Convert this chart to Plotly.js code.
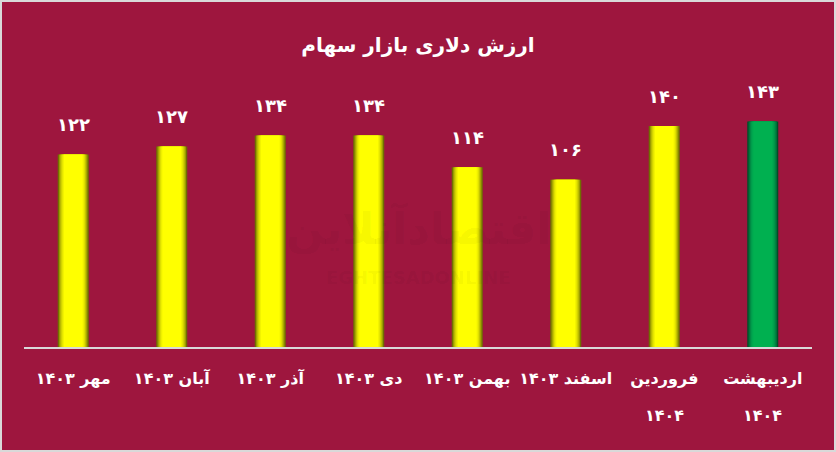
<!DOCTYPE html>
<html>
<head>
<meta charset="utf-8">
<script src="https://cdn.plot.ly/plotly-3.0.1.min.js"></script>
<style>
  html, body { margin: 0; padding: 0; background: #d9d9d9; }
  #chart { width: 832px; height: 448px; margin: 2px; }
</style>
</head>
<body>
<div id="chart"></div>
<script>
// ---- data ----
const categories = [
  "مهر ۱۴۰۳", "آبان ۱۴۰۳", "آذر ۱۴۰۳", "دی ۱۴۰۳",
  "بهمن ۱۴۰۳", "اسفند ۱۴۰۳", "فروردین ۱۴۰۴", "اردیبهشت ۱۴۰۴"
];
const tickLine1 = [
  "مهر ۱۴۰۳", "آبان ۱۴۰۳", "آذر ۱۴۰۳", "دی ۱۴۰۳",
  "بهمن ۱۴۰۳", "اسفند ۱۴۰۳", "فروردین", "اردیبهشت"
];
const tickLine2 = ["", "", "", "", "", "", "۱۴۰۴", "۱۴۰۴"];
const values = [122, 127, 134, 134, 114, 106, 140, 143];
const highlight = [false, false, false, false, false, false, false, true];
const titleText = "ارزش دلاری بازار سهام";

// ---- helpers ----
const toFa = n => String(n).replace(/\d/g, d => "۰۱۲۳۴۵۶۷۸۹"[d]);

// gradient layers (outer -> inner)
const yellowShades = ["#6f6f00", "#9a9a00", "#c2c200", "#dede00", "#f2f200", "#ffff00"];
const greenShades  = ["#00502a", "#006f38", "#008a44", "#009c4b", "#00a94f", "#00b050"];
const widths = [0.315, 0.29, 0.265, 0.24, 0.215, 0.19];

const traces = [];
widths.forEach((w, i) => {
  traces.push({
    type: "bar",
    x: categories,
    y: values,
    width: categories.map(() => w),
    marker: { color: highlight.map(h => h ? greenShades[i] : yellowShades[i]), line: { width: 0 } },
    hoverinfo: "skip",
    showlegend: false
  });
});

const labelFont = { family: "DejaVu Sans", size: 16, color: "#ffffff", weight: "bold" };

const annotations = categories.map((c, i) => ({
  x: c, y: values[i], xref: "x", yref: "y",
  text: toFa(values[i]), showarrow: false,
  yshift: 30,
  font: { family: "DejaVu Sans", size: 18, color: "#ffffff", weight: "bold" }
}));
// second line of wrapped tick labels
categories.forEach((c, i) => {
  if (tickLine2[i]) {
    annotations.push({
      x: c, xref: "x", y: 0, yref: "paper", yanchor: "middle",
      yshift: -68, text: tickLine2[i], showarrow: false, font: labelFont
    });
  }
});
// watermark
annotations.push({
  xref: "paper", yref: "paper", x: 0.5, y: 0.42, showarrow: false,
  text: "اقتصادآنلاین", font: { family: "DejaVu Sans", size: 44, color: "rgba(0,0,0,0.055)", weight: "bold" }
});
annotations.push({
  xref: "paper", yref: "paper", x: 0.5, y: 0.2, showarrow: false,
  text: "EGHTESADONLINE", font: { family: "DejaVu Sans", size: 18, color: "rgba(0,0,0,0.055)", weight: "bold" }
});

const layout = {
  width: 832, height: 448,
  paper_bgcolor: "#9e163e",
  plot_bgcolor: "#9e163e",
  margin: { l: 22, r: 22, t: 61, b: 103 },
  barmode: "overlay",
  title: {
    text: titleText, x: 0.5, xanchor: "center", y: 0.905, yanchor: "middle",
    font: { family: "DejaVu Sans", size: 20, color: "#ffffff", weight: "bold" }
  },
  xaxis: {
    type: "category",
    tickmode: "array", tickvals: categories, ticktext: tickLine1,
    showline: true, linecolor: "#d9d9d9", linewidth: 2,
    showgrid: false, zeroline: false,
    ticks: "", ticklen: 0, ticklabelstandoff: 16,
    tickfont: labelFont,
    fixedrange: true
  },
  yaxis: {
    range: [0, 180], visible: false, showgrid: false, zeroline: false, fixedrange: true
  },
  annotations: annotations,
  showlegend: false
};

Plotly.newPlot("chart", traces, layout, { displayModeBar: false, staticPlot: true });
</script>
</body>
</html>
